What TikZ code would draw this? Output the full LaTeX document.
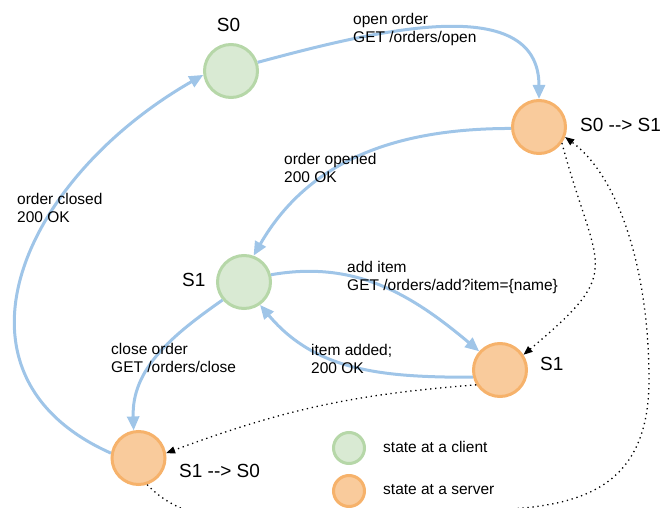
\documentclass[tikz,border=0pt]{standalone}
\usepackage{fontspec}
\setmainfont{Liberation Sans}
\usepackage{tikz}
\usetikzlibrary{arrows.meta}
\definecolor{clientfill}{HTML}{D9EAD3}
\definecolor{clientline}{HTML}{B6D7A8}
\definecolor{serverfill}{HTML}{F9CB9C}
\definecolor{serverline}{HTML}{F6B26B}
\definecolor{callblue}{HTML}{9FC5E8}

\begin{document}
\begin{tikzpicture}[x=1pt,y=1pt]
\tikzset{client/.style={circle,
    draw=clientline, fill=clientfill,
    line width=3pt,
    minimum size=#1,
    inner sep=0pt
  },
  client/.default=53pt,
  server/.style={client=#1, draw=serverline, fill=serverfill},
  server/.default=53pt,
  call/.style={draw=callblue, line width=3pt,
    -{Triangle[length=14pt,width=12pt]}
  },
  sync/.style={draw=black, line width=1.3pt,
    dash pattern=on 1.3pt off 3.7pt,
    -{Triangle[length=9pt,width=7pt]}
  },
  msg/.style={anchor=north west, align=left, inner sep=0pt,
    font=\fontsize{15.5}{18}\selectfont},
  statename/.style={anchor=base west, inner sep=0pt,
    font=\fontsize{19}{22}\selectfont}
}
\useasboundingbox (0,0) rectangle (662,507);
\clip (0,0) rectangle (662,507);

\node[client] (s0client) at (231,436) {};
\node[server] (s0server) at (539,380) {};
\node[client] (s1client) at (244,225) {};
\node[server] (s1server) at (500,137) {};
\node[server] (s1s0server) at (138.5,49) {};

\draw[call] (s0client.18) to[out=15, in=90] (s0server.north);
\draw[call] (s0server.183) to[out=180, in=60] (s1client.70);
\draw[call] (s1client.15) to[out=10, in=140] (s1server.138);
\draw[call] (s1server.195) to[out=180, in=-50] (s1client.-55);
\draw[call] (s1client.220) to[out=215, in=92] (s1s0server.100);
\draw[call] (s1s0server.170) .. controls +(-175,78) and +(-183,-105) .. (s0client.188);

\draw[sync] (s0server.-35) to[out=-75, in=40, looseness=1.6] (s1server.33);
\draw[sync] (s1server.212) to[bend right=8] (s1s0server.10);
\draw[sync] (s1s0server.-72) .. controls +(60,-63) and (320,-3) .. (470,-3)
  .. controls (572,-3) and (649,12) .. (649,127)
  .. controls (649,237) and (619,330) .. (s0server.-21);

\node[statename, anchor=base] (s0name) at (228.5,475) {S0};
\node[statename] (s0s1name) at (580,375) {S0 -{}-> S1};
\node[statename] (s1name) at (182,220) {S1};
\node[statename] (s1srvname) at (540,137) {S1};
\node[statename] (s1s0name) at (179,30) {S1 -{}-> S0};

\node[msg] (openmsg) at (353,494) {open order\\GET /orders/open};
\node[msg] (openedmsg) at (284,354) {order opened\\200 OK};
\node[msg] (addmsg) at (347,246) {add item\\GET /orders/add?item=\{name\}};
\node[msg] (addedmsg) at (311,163) {item added;\\200 OK};
\node[msg] (closemsg) at (111,164) {close order\\GET /orders/close};
\node[msg] (closedmsg) at (17,314) {order closed\\200 OK};

\node[client=31pt] (clientkey) at (349,59) {};
\node[server=31pt] (serverkey) at (349,16) {};
\node[msg, anchor=base west] (clienttext) at (383,55) {state at a client};
\node[msg, anchor=base west] (servertext) at (383,13) {state at a server};
\end{tikzpicture}
\end{document}
